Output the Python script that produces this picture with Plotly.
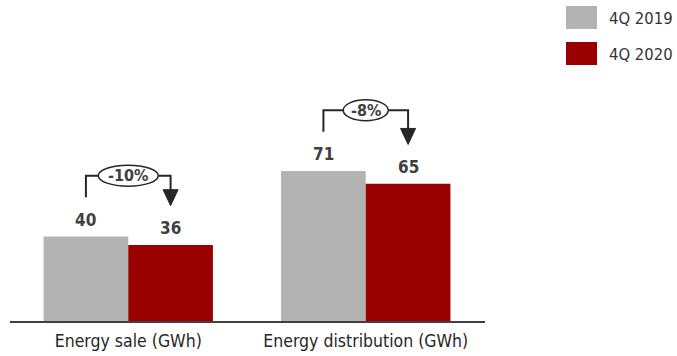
import plotly.graph_objects as go

categories = ["Energy sale (GWh)", "Energy distribution (GWh)"]
series_names = ["4Q 2019", "4Q 2020"]
values_2019 = [40, 71]
values_2020 = [36, 65]

W, H = 677, 356
MT, MB = 0, 35
PLOT_H = H - MT - MB
YMAX = 152
X0_PX, X1_PX = 9.5, 484.5
dom = [X0_PX / W, X1_PX / W]
px_per_x = (X1_PX - X0_PX) / 2.0
px_per_y = PLOT_H / YMAX

GRAY = "#B3B3B3"
RED = "#990000"
DARK = "#262626"
FONT = "Liberation Sans Narrow, Arial Narrow, DejaVu Sans Condensed, sans-serif"

BARGAP = 0.287
bw = (1 - BARGAP) / 2
off = bw / 2

xs = list(range(len(categories)))
fig = go.Figure()
fig.add_trace(go.Bar(x=xs, y=values_2019, name=series_names[0], marker_color=GRAY,
                     marker_line_width=0, showlegend=False))
fig.add_trace(go.Bar(x=xs, y=values_2020, name=series_names[1], marker_color=RED,
                     marker_line_width=0, showlegend=False))

annotations = []
shapes = []
for i, (a, b) in enumerate(zip(values_2019, values_2020)):
    xa, xb = i - off, i + off
    for x, v in ((xa, a), (xb, b)):
        annotations.append(dict(x=x, y=v, xref="x", yref="y", text=f"<b>{v}</b>",
                                showarrow=False, yanchor="bottom", yshift=5,
                                font=dict(family=FONT, size=17, color="#404040")))
    # bracket
    top = a + 28.8
    lb = a + 18.6
    tip = b + 18.6
    ah = 16 / px_per_y
    aw = 7.5 / px_per_x
    pct = round((b - a) / a * 100)
    label = f"{pct}%"
    ew = 15 * len(label) / px_per_x / 2
    eh = 10.5 / px_per_y
    xc = i
    line = dict(color=DARK, width=2)
    shapes.append(dict(type="path", xref="x", yref="y",
                       path=f"M{xa},{lb} L{xa},{top} L{xc - ew},{top}",
                       line=line))
    shapes.append(dict(type="path", xref="x", yref="y",
                       path=f"M{xc + ew},{top} L{xb},{top} L{xb},{tip + ah}",
                       line=line))
    shapes.append(dict(type="path", xref="x", yref="y",
                       path=f"M{xb - aw},{tip + ah} L{xb + aw},{tip + ah} L{xb},{tip} Z",
                       line=dict(color=DARK, width=1), fillcolor=DARK))
    shapes.append(dict(type="circle", xref="x", yref="y",
                       x0=xc - ew, x1=xc + ew, y0=top - eh, y1=top + eh,
                       line=dict(color=DARK, width=1.5), fillcolor="white"))
    annotations.append(dict(x=xc, y=top, xref="x", yref="y", text=f"<b>{label}</b>",
                            showarrow=False, font=dict(family=FONT, size=16, color="#404040")))

# legend (manual)
for k, (name, col) in enumerate(zip(series_names, [GRAY, RED])):
    y0 = 6 + k * 36
    shapes.append(dict(type="rect", xref="paper", yref="paper",
                       x0=566 / W, x1=597 / W,
                       y0=1 - (y0 + 23) / PLOT_H, y1=1 - y0 / PLOT_H,
                       line=dict(width=0), fillcolor=col))
    annotations.append(dict(x=607 / W, y=1 - (y0 + 12.5) / PLOT_H, xref="paper", yref="paper",
                            text=name, showarrow=False, xanchor="left", yanchor="middle",
                            font=dict(family=FONT, size=16.5, color="#333333")))

fig.update_layout(
    width=W, height=H,
    margin=dict(l=0, r=0, t=MT, b=MB, pad=0),
    paper_bgcolor="white", plot_bgcolor="white",
    barmode="group", bargap=BARGAP, bargroupgap=0,
    xaxis=dict(domain=dom, range=[-0.5, 1.5], tickvals=xs, ticktext=categories,
               showline=True, linecolor="#404040", linewidth=2, showgrid=False,
               zeroline=False, ticks="", ticklabelstandoff=3,
               tickfont=dict(family=FONT, size=17.5, color=DARK)),
    yaxis=dict(range=[0, YMAX], visible=False, showgrid=False, zeroline=False),
    shapes=shapes, annotations=annotations,
)
fig.write_html("out.html")
